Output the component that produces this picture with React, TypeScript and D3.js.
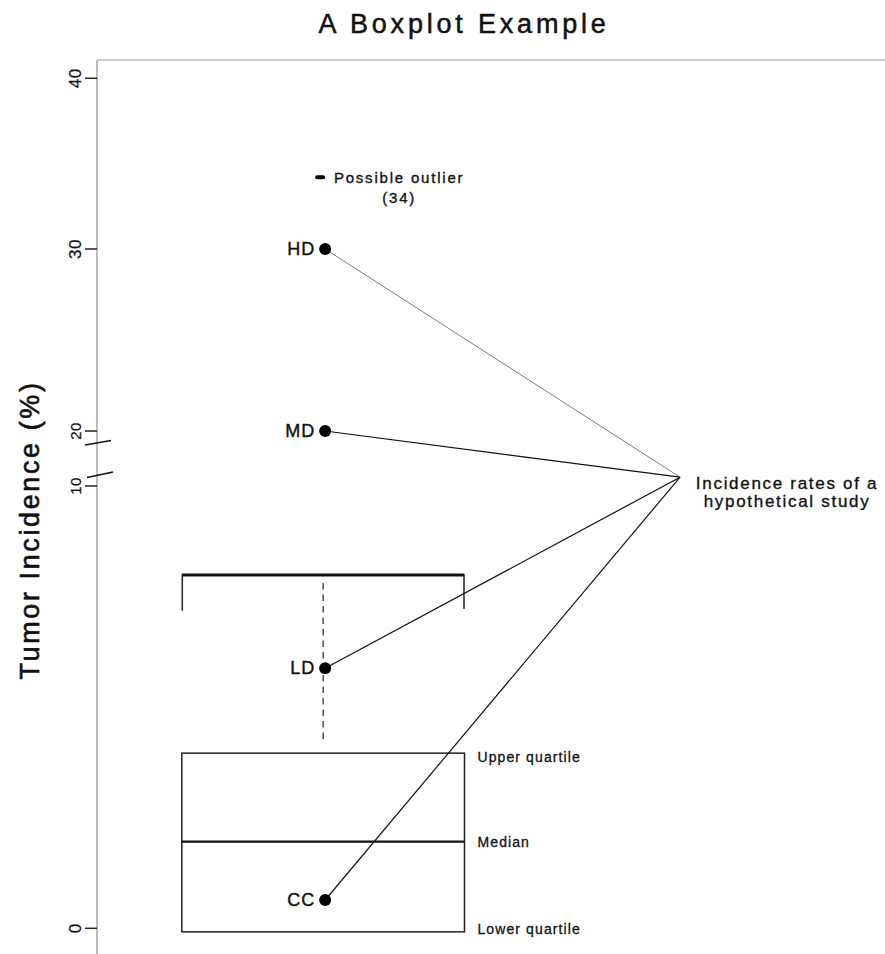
import React from 'react';
import * as d3 from 'd3';

// groups and their incidence values (%)
const groups = ['CC', 'LD', 'MD', 'HD'];
const incidence = [0.64, 5.88, 20, 30];

// box summary of the control distribution
const boxCenter = 1;
const boxWidth = 0.8;
const lowerQuartile = -0.08;
const median = 1.96;
const upperQuartile = 3.96;
const upperWhisker = 7.99;
const outlier = 34.2;
const outlierLabel = ['Possible outlier', '(34)'];

const boxLabels = ['Upper quartile', 'Median', 'Lower quartile'];
const boxLabelValues = [upperQuartile, median, lowerQuartile];
const boxLabelShift = [4, 0, -3];

// annotation anchor where the lines meet
const anchorX = 2.01;
const anchorY = 11.6;
const anchorText = ['Incidence rates of a', 'hypothetical study'];

const yTicks = [0, 10, 20, 30, 40];
// broken axis: 0-10 stretched, 20-40 compressed
const yBreakDomain = [0, 10, 20, 30, 40];

const W = 885;
const H = 954;
const font = '"Liberation Sans", Arial, Helvetica, sans-serif';
// a little stroke to get the heavier look of the original text
const ink = { fill: '#111', stroke: '#111', strokeWidth: 0.35 };

const App: React.FC = () => {
  const x = d3.scaleLinear().domain([0.36, 2.59]).range([97, 885]);
  const y = d3.scaleLinear<number>().domain(yBreakDomain).range([928.3, 486, 431, 249, 78.3]);

  const axisX = x(0.36);
  const bx0 = x(boxCenter - boxWidth / 2);
  const bx1 = x(boxCenter + boxWidth / 2);
  const cx = x(boxCenter);
  const ax = x(anchorX);
  const ay = y(anchorY);
  const dotShift = 2;

  return (
    <svg width={W} height={H} style={{ position: 'absolute', left: 0, top: 0, background: '#fff' }}
      fontFamily={font}>
      {/* title */}
      <text x={464} y={33} textAnchor="middle" fontSize={27} letterSpacing={3.8} {...ink} strokeWidth={0.5}>
        A Boxplot Example
      </text>

      {/* frame top + axis */}
      <line x1={axisX} x2={W} y1={60} y2={60} stroke="#999" strokeWidth={1} />
      <line x1={axisX} x2={axisX} y1={60} y2={H} stroke="#aaa" strokeWidth={1.6} />

      {yTicks.map((t) => (
        <g key={t}>
          <line x1={axisX - 12} x2={axisX} y1={y(t)} y2={y(t)} stroke="#222" strokeWidth={1.5} />
          <text transform={`translate(${axisX - 16},${y(t)}) rotate(-90)`} textAnchor="middle"
            fontSize={t === 10 || t === 20 ? 15 : 17} letterSpacing={0.5} {...ink} strokeWidth={0.25}>
            {t}
          </text>
        </g>
      ))}

      {/* axis break marks */}
      <line x1={axisX - 12} y1={y(20) + 14} x2={axisX + 14} y2={y(20) + 9.5} stroke="#111" strokeWidth={1.5} />
      <line x1={axisX - 10} y1={y(10) - 8.5} x2={axisX + 16} y2={y(10) - 14} stroke="#111" strokeWidth={1.5} />

      <text transform={`translate(39,530) rotate(-90)`} textAnchor="middle" fontSize={27}
        letterSpacing={2.6} {...ink} strokeWidth={0.6}>
        Tumor Incidence (%)
      </text>

      {/* whisker */}
      <line x1={bx0} x2={bx1} y1={y(upperWhisker)} y2={y(upperWhisker)} stroke="#111" strokeWidth={3} />
      <line x1={bx0 + 0.5} x2={bx0 + 0.5} y1={y(upperWhisker)} y2={y(upperWhisker) + 36} stroke="#222" strokeWidth={1.5} />
      <line x1={bx1 - 0.5} x2={bx1 - 0.5} y1={y(upperWhisker)} y2={y(upperWhisker) + 34} stroke="#222" strokeWidth={1.5} />
      <line x1={cx} x2={cx} y1={y(upperWhisker) + 8} y2={y(upperQuartile) - 10} stroke="#222"
        strokeWidth={1.2} strokeDasharray="6.5,5" />

      {/* box */}
      <rect x={bx0} y={y(upperQuartile)} width={bx1 - bx0} height={y(lowerQuartile) - y(upperQuartile)}
        fill="none" stroke="#222" strokeWidth={1.5} />
      <line x1={bx0} x2={bx1} y1={y(median)} y2={y(median)} stroke="#111" strokeWidth={2.2} />

      {boxLabels.map((l, i) => (
        <text key={l} x={bx1 + 13} y={y(boxLabelValues[i]) + boxLabelShift[i]} dominantBaseline="central"
          fontSize={14} letterSpacing={1.1} {...ink} strokeWidth={0.3}>
          {l}
        </text>
      ))}

      {/* outlier */}
      <rect x={cx - 8} y={y(outlier) - 2} width={10} height={4} rx={2} fill="#000" />
      {outlierLabel.map((l, i) => (
        <text key={l} x={cx + 76} y={y(outlier) + 5.5 + i * 20} textAnchor="middle" fontSize={15}
          letterSpacing={1.8} {...ink}>
          {l}
        </text>
      ))}

      {/* connector lines */}
      {groups.map((g, i) => (
        <line key={g} x1={cx + dotShift} y1={y(incidence[i])} x2={ax} y2={ay} stroke={g === 'HD' ? '#444' : '#111'}
          strokeWidth={g === 'HD' ? 0.7 : 1.2} />
      ))}

      {/* points */}
      {groups.map((g, i) => (
        <g key={g}>
          <circle cx={cx + dotShift} cy={y(incidence[i])} r={6} fill="#000" />
          <text x={cx + dotShift - 10} y={y(incidence[i]) + 6} textAnchor="end" fontSize={18}
            letterSpacing={1} {...ink} strokeWidth={0.4}>
            {g}
          </text>
        </g>
      ))}

      {anchorText.map((l, i) => (
        <text key={l} x={ax + 107} y={ay + 12 + i * 18} textAnchor="middle" fontSize={17}
          letterSpacing={1.7} {...ink}>
          {l}
        </text>
      ))}
    </svg>
  );
};

export default App;
